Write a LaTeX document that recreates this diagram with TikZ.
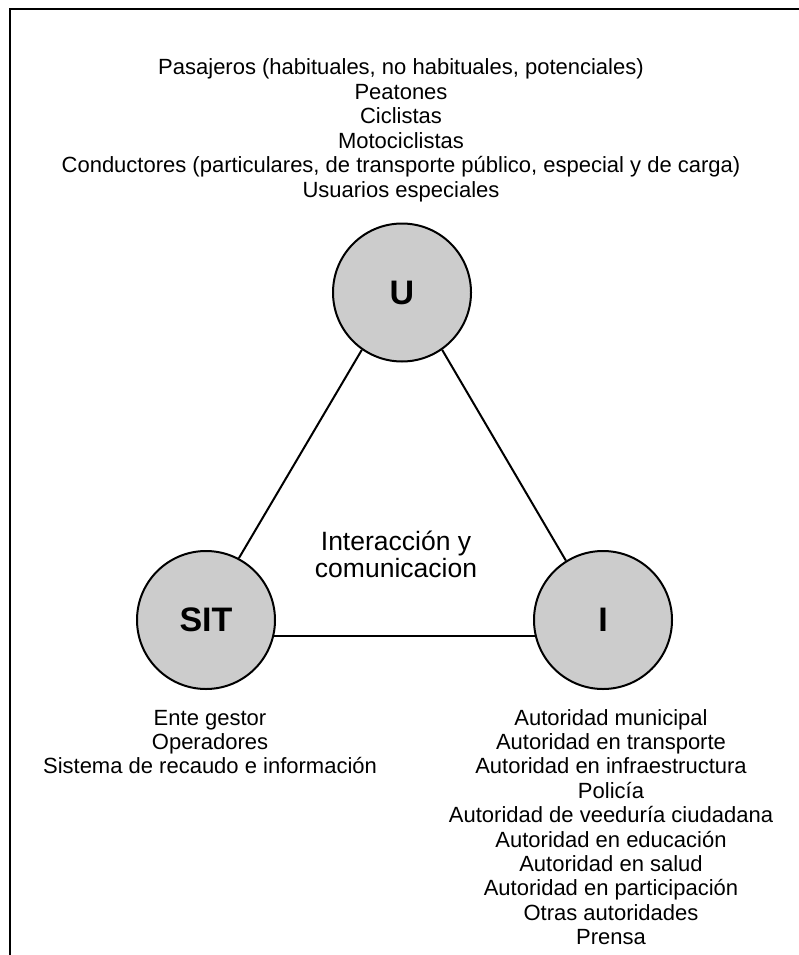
\documentclass[tikz,border=0pt]{standalone}
\usepackage{fontspec}
\setmainfont{Liberation Sans}
\definecolor{circlegray}{HTML}{CCCCCC}
\begin{document}
\begin{tikzpicture}[x=1pt,y=-1pt,
  actor/.style={circle, draw=black, line width=2pt, fill=circlegray,
    minimum size=138pt, inner sep=0pt, font=\fontsize{34}{40}\selectfont\bfseries},
  link/.style={line width=2pt},
  frameline/.style={line width=2pt, draw=black},
  listtext/.style={anchor=base, inner sep=0pt, font=\fontsize{22}{24}\selectfont},
  centertext/.style={anchor=base, inner sep=0pt, font=\fontsize{26.5}{28}\selectfont}]
\useasboundingbox (0,0) rectangle (799,955);

% open frame: top and left edges
\coordinate (ftl) at (9.5,9);
\coordinate (ftr) at (799,9);
\coordinate (fbl) at (9.5,955);
\draw[frameline] (ftr) -- (ftl) -- (fbl);

% the three actors
\node[actor] (U)   at (402,292.5) {U};
\node[actor] (SIT) at (206,620) {SIT};
\node[actor] (I)   at (603,620) {I};

\draw[link] (U.235) -- (SIT.62);
\draw[link] (U.305) -- (I.122);
\draw[link] (SIT.-13) -- (I.193);

% centre label
\node[centertext] (c1) at (396,550) {Interacción y};
\node[centertext] (c2) at (396,577) {comunicacion};

% users
\foreach \t [count=\i] in {
  {Pasajeros (habituales, no habituales, potenciales)},
  {Peatones},
  {Ciclistas},
  {Motociclistas},
  {Conductores (particulares, de transporte público, especial y de carga)},
  {Usuarios especiales}}
  \node[listtext] (u\i) at (401,{75+24.4*(\i-1)}) {\t};

% system operators
\foreach \t [count=\i] in {
  {Ente gestor},
  {Operadores},
  {Sistema de recaudo e información}}
  \node[listtext] (s\i) at (210,{725+24.4*(\i-1)}) {\t};

% institutions
\foreach \t [count=\i] in {
  {Autoridad municipal},
  {Autoridad en transporte},
  {Autoridad en infraestructura},
  {Policía},
  {Autoridad de veeduría ciudadana},
  {Autoridad en educación},
  {Autoridad en salud},
  {Autoridad en participación},
  {Otras autoridades},
  {Prensa}}
  \node[listtext] (i\i) at (611,{725+24.4*(\i-1)}) {\t};
\end{tikzpicture}
\end{document}
